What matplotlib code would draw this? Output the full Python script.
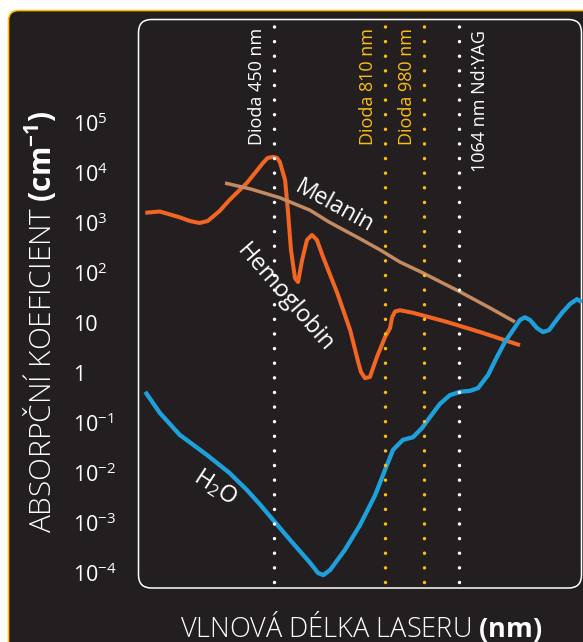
import numpy as np
import matplotlib.pyplot as plt
from matplotlib.patches import FancyBboxPatch
from matplotlib.transforms import IdentityTransform

plt.rcParams['font.family'] = ['Open Sans', 'DejaVu Sans']
plt.rcParams['mathtext.fontset'] = 'custom'
plt.rcParams['mathtext.rm'] = 'Open Sans'
plt.rcParams['mathtext.bf'] = 'Open Sans:bold'
plt.rcParams['mathtext.it'] = 'Open Sans:italic'

# absorption spectra (wavelength in nm, absorption coefficient in 1/cm)
hb_nm = [308, 324, 346, 357, 368, 377, 390, 401, 420, 438, 443, 449, 460, 469,
         486, 495, 505, 518, 528, 541, 557, 573, 589, 609, 655, 697, 723, 732,
         745, 761, 784, 810, 832, 841, 854, 875, 932, 1035, 1224, 1528]
hb_abs = [1.6e3, 1.7e3, 1.3e3, 1.1e3, 1.0e3, 1.1e3, 1.74e3, 2.9e3, 6.3e3,
          1.6e4, 2.0e4, 2.1e4, 2.0e4, 1.66e4, 7.2e3, 1.8e3, 290, 79, 66, 180,
          460, 575, 460, 210, 40, 7.2, 1.66, 1.05, 0.79, 0.83, 2.1, 5.2, 7.9,
          13, 17, 18, 16, 10.5, 6.6, 3.6]

mel_nm = [396, 424, 469, 567, 628, 725, 794, 875, 976, 1072, 1300, 1490]
mel_abs = [6.3e3, 4.8e3, 3.2e3, 1.8e3, 1.05e3, 500, 290, 166, 100, 42, 20, 10.5]

h2o_nm = [308, 324, 346, 376, 401, 420, 435, 449, 502, 567, 593, 610, 632, 680,
          729, 778, 810, 845, 888, 932, 971, 994, 1018, 1042, 1072, 1148, 1209,
          1285, 1353, 1414, 1475, 1528, 1566, 1604, 1658, 1703, 1749, 1795,
          1848, 1909, 1962, 2000]
h2o_abs = [0.42, 0.16, 0.058, 0.023, 0.01, 0.0046, 0.0023, 0.00115, 4.6e-4,
           1.6e-4, 1.0e-4, 9.1e-5, 1.15e-4, 2.9e-4, 9.1e-4, 0.0036, 0.0115,
           0.029, 0.046, 0.052, 0.079, 0.13, 0.24, 0.36, 0.42, 0.44, 0.5, 0.91,
           2.1, 4.2, 7.2, 11.5, 13, 11.5, 7.9, 6.6, 7.2, 10.5, 16, 24, 30, 26]

# lasers
laser_nm = [450, 810, 980, 1064]
laser_labels = ['Dioda 450 nm', 'Dioda 810 nm', 'Dioda 980 nm', '1064 nm Nd:YAG']

# y ticks (powers of ten)
ytick_exp = [5, 4, 3, 2, 1, 0, -1, -2, -3, -4]

# colours
bg = '#231f20'
yellow = '#fdbe12'
orange = '#f26522'
tan = '#c48b62'
blue = '#1ea0dc'
laser_colors = ['white', yellow, yellow, 'white']

# schematic (not to scale) wavelength axis
scale_nm = [300, 450, 810, 980, 1064, 2000]
scale_pos = [0, 136, 247, 286, 321, 444]


def fwd(x):
    return np.interp(x, scale_nm, scale_pos)


def inv(x):
    return np.interp(x, scale_pos, scale_nm)


W, H = 583, 642
fig = plt.figure(figsize=(W / 100, H / 100), dpi=100)
fig.patch.set_facecolor('white')

# dark rounded background with yellow edge
fig.add_artist(FancyBboxPatch((8.5, -20), 620, H - 10.5 + 20,
                              boxstyle='round,pad=0,rounding_size=10',
                              fc=bg, ec=yellow, lw=1.2,
                              transform=IdentityTransform(), zorder=-10))
# white rounded frame of the plot
fig.add_artist(FancyBboxPatch((138.5, H - 588), 443, 568.5,
                              boxstyle='round,pad=0,rounding_size=13',
                              fc='none', ec='white', lw=1.1,
                              transform=IdentityTransform(), zorder=-5))

ax = fig.add_axes([138 / W, (H - 588) / H, 444 / W, 569 / H])
ax.patch.set_visible(False)
for s in ax.spines.values():
    s.set_visible(False)

ax.set_xscale('function', functions=(fwd, inv))
ax.set_yscale('log')
ax.set_xlim(300, 2000)
ax.set_ylim(10 ** -4.3, 10 ** 7.08)

ax.plot(hb_nm, hb_abs, color=orange, lw=2.9, solid_joinstyle='round',
        solid_capstyle='butt', zorder=2)
ax.plot(mel_nm, mel_abs, color=tan, lw=2.5, solid_joinstyle='round',
        solid_capstyle='butt', zorder=3)
ax.plot(h2o_nm, h2o_abs, color=blue, lw=3.1, solid_joinstyle='round',
        solid_capstyle='butt', zorder=4)

# dotted laser lines with labels
for nm, lab, c in zip(laser_nm, laser_labels, laser_colors):
    ax.axvline(nm, ymin=0.01, ymax=0.99, color=c, lw=2.5,
               linestyle=(0, (0.01, 4.2)), dash_capstyle='round', zorder=5)
    dx = 21 if nm == 1064 else -17
    dy = -11 if nm == 1064 else -9
    ax.annotate(lab, xy=(nm, 1), xycoords=('data', 'axes fraction'),
                xytext=(dx, dy), textcoords='offset pixels',
                rotation=90, ha='center', va='top', color=c, fontsize=13)

# y ticks
labels = []
for e in ytick_exp:
    if e == 1:
        labels.append('10')
    elif e == 0:
        labels.append('1')
    else:
        labels.append(r'$\mathregular{10^{%d}}$' % e)
ax.set_yticks([10.0 ** e for e in ytick_exp])
ax.set_yticklabels(labels)
ax.minorticks_off()
ax.set_xticks([])
ax.tick_params(axis='y', length=0, pad=65 * 0.72, labelcolor='white',
               labelsize=15.5)
for t in ax.get_yticklabels():
    t.set_ha('left')


def px(x, y):
    return x / W, 1 - y / H


# curve names
fig.text(*px(334, 207), 'Melanin', rotation=-29, ha='center', va='center',
         rotation_mode='anchor', color='white', fontsize=16.5)
fig.text(*px(285, 298), 'Hemoglobin', rotation=-49, ha='center', va='center',
         rotation_mode='anchor', color='white', fontsize=17)
fig.text(*px(215, 487), r'H$_2$O', rotation=-33, ha='center', va='center',
         rotation_mode='anchor', color='white', fontsize=17)

# axis titles
fig.text(*px(40, 322), r'ABSORPČNÍ KOEFICIENT $\mathbf{(cm^{-1})}$',
         rotation=90, ha='center', va='center', color='white',
         fontsize=21.5, fontweight='light')
fig.text(*px(361, 626), r'VLNOVÁ DÉLKA LASERU $\mathbf{(nm)}$',
         ha='center', va='center', color='white', fontsize=19.5,
         fontweight='light')

fig.savefig('out.png', dpi=100)
